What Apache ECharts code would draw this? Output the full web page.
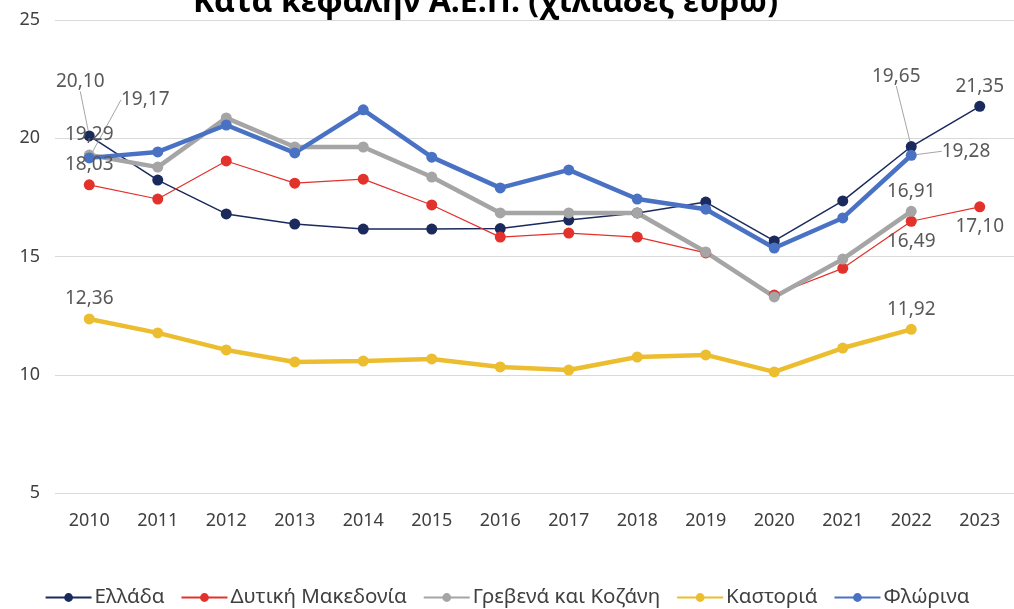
<!DOCTYPE html>
<html>
<head>
<meta charset="utf-8">
<script src="https://cdn.jsdelivr.net/npm/echarts@6/dist/echarts.min.js"></script>
<style>
  html, body { margin: 0; padding: 0; background: #fff; }
  #chart { width: 1014px; height: 609px; }
</style>
</head>
<body>
<div id="chart"></div>
<script>
const years = ['2010','2011','2012','2013','2014','2015','2016','2017','2018','2019','2020','2021','2022','2023'];

const ellada     = [20.10, 18.23, 16.80, 16.37, 16.16, 16.16, 16.18, 16.54, 16.84, 17.30, 15.66, 17.35, 19.65, 21.35];
const dytiki     = [18.03, 17.43, 19.04, 18.10, 18.27, 17.18, 15.82, 15.99, 15.82, 15.15, 13.37, 14.50, 16.49, 17.10];
const grevKoz    = [19.29, 18.78, 20.86, 19.63, 19.63, 18.36, 16.84, 16.84, 16.84, 15.19, 13.29, 14.89, 16.91, null];
const kastoria   = [12.36, 11.77, 11.05, 10.54, 10.58, 10.67, 10.33, 10.20, 10.75, 10.84, 10.12, 11.13, 11.92, null];
const florina    = [19.17, 19.42, 20.56, 19.38, 21.20, 19.20, 17.90, 18.66, 17.43, 17.00, 15.36, 16.63, 19.28, null];

const seriesNames = ['Ελλάδα', 'Δυτική Μακεδονία', 'Γρεβενά και Κοζάνη', 'Καστοριά', 'Φλώρινα'];
const yTicks = { min: 5, max: 25, interval: 5 };

// which points carry a value label, and how it is nudged
const labelSpec = {
  0: { 0: { offset: [-9, -34], leader: true }, 12: { offset: [-15, -50], leader: true }, 13: { offset: [0, -9] } },
  1: { 0: { offset: [0, 21] }, 12: { pos: 'bottom', offset: [0, 8] }, 13: { pos: 'bottom', offset: [3, 6] } },
  2: { 0: { offset: [-9, -3] }, 12: { offset: [2, 1] } },
  3: { 0: { offset: [0, -7] }, 12: { offset: [0, -11] } },
  4: { 0: { offset: [56, -38], leader: true }, 12: { pos: 'right', offset: [20, -4], leader: true } }
};

const fmt = v => v.toFixed(2).replace('.', ',');

const buildData = (values, sIdx) => values.map((v, i) => {
  const spec = labelSpec[sIdx][i];
  if (v == null || !spec) return { value: v, label: { show: false } };
  return {
    value: v,
    label: {
      show: true,
      position: spec.pos || 'top',
      offset: spec.leader ? [0, 0] : spec.offset,
      formatter: p => fmt(p.value),
      color: '#595959',
      fontSize: 19,
      fontFamily: 'Noto Sans'
    },
    labelLine: { show: !!spec.leader }
  };
});

const styles = [
  { color: '#1b2a5c', width: 1.5 },
  { color: '#e3312b', width: 1.2 },
  { color: '#a5a5a5', width: 4.5 },
  { color: '#ecbd2e', width: 4.5 },
  { color: '#4a72c4', width: 4.5 }
];

const valueSets = [ellada, dytiki, grevKoz, kastoria, florina];

const chart = echarts.init(document.getElementById('chart'));

const series = valueSets.map((vals, s) => ({
  name: seriesNames[s],
  type: 'line',
  data: buildData(vals, s),
  symbol: 'circle',
  symbolSize: 11,
  itemStyle: { color: styles[s].color },
  lineStyle: { color: styles[s].color, width: styles[s].width },
  labelLine: { show: false, lineStyle: { color: '#a6a6a6', width: 1 } },
  labelLayout: p => {
    const spec = labelSpec[s][p.dataIndex];
    if (spec && spec.leader) return { dx: spec.offset[0], dy: spec.offset[1] };
    return {};
  },
  emphasis: { disabled: true },
  animation: false
}));

chart.setOption({
  backgroundColor: '#fff',
  animation: false,
  title: {
    text: 'Κατά κεφαλήν Α.Ε.Π. (χιλιάδες ευρώ)',
    left: 193,
    top: -13,
    padding: 0,
    textStyle: { fontFamily: 'Noto Sans', fontWeight: 'bold', fontSize: 32, color: '#000' }
  },
  grid: { left: 55, right: -7, top: 20, bottom: 116 },
  xAxis: {
    type: 'category',
    data: years,
    boundaryGap: true,
    axisLine: { show: false },
    axisTick: { show: false },
    axisLabel: { color: '#404040', fontSize: 18, fontFamily: 'Noto Sans', margin: 19 }
  },
  yAxis: {
    type: 'value',
    min: yTicks.min,
    max: yTicks.max,
    interval: yTicks.interval,
    axisLine: { show: false },
    axisTick: { show: false },
    axisLabel: { color: '#404040', fontSize: 18, fontFamily: 'Noto Sans', margin: 15 },
    splitLine: { lineStyle: { color: '#d9d9d9', width: 1 } }
  },
  legend: {
    bottom: -4,
    left: 'center',
    itemWidth: 46,
    itemHeight: 11,
    itemGap: 16,
    textStyle: { color: '#404040', fontSize: 20.5, fontFamily: 'Noto Sans', padding: [0, 0, 0, -2] },
    data: seriesNames
  },
  series
});
</script>
</body>
</html>
